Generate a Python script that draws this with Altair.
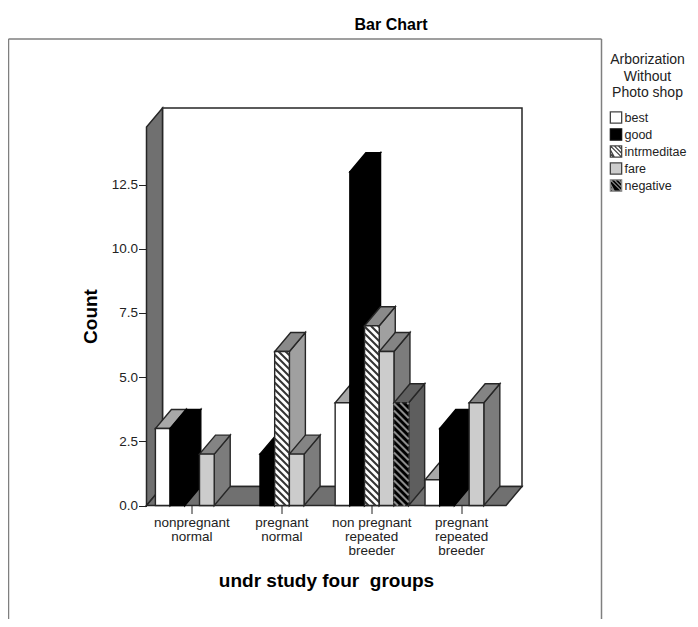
import altair as alt
import pandas as pd

FONT = "Liberation Sans"
groups = ["nonpregnant|normal", "pregnant|normal", "non pregnant|repeated|breeder", "pregnant|repeated|breeder"]
cats = ["best", "good", "intrmeditae", "fare", "negative"]
best = [3, 0, 4, 1]
good = [3, 2, 13, 3]
intr = [0, 6, 7, 0]
fare = [2, 2, 6, 4]
nega = [0, 0, 4, 0]
series = [best, good, intr, fare, nega]
front = ["#ffffff", "#000000", "#ffffff", "#cccccc", "#000000"]
top = ["#a8a8a8", "#000000", "#8a8a8a", "#848484", "#606060"]
side = ["#b5b5b5", "#000000", "#a0a0a0", "#7c7c7c", "#5e5e5e"]
stripe = [None, None, "#333333", None, "#8c8c8c"]
legend_stroke = ["#444444", "#111111", "#444444", "#444444", "#888888"]

BOX = "M-1,-1L1,-1L1,1L-1,1Z"
HATCH = BOX + "M-1,-1L1,1M-1,-0.3L-0.3,1M-0.3,-1L1,0.3M-1,0.4L-0.4,1M0.4,-1L1,-0.4"
paths = [BOX, BOX, HATCH, BOX, HATCH]

W, H = 375.5, 397.5
XMIN, XMAX, YMAX = -0.5, 3.678, 15.48
PX = W / (XMAX - XMIN)
PY = H / YMAX
DX, DY = 16 / PX, 19 / PY
BW = 14.7 / PX
EDGE = "#262626"

xs = alt.Scale(domain=[XMIN, XMAX], nice=False, zero=False)
ys = alt.Scale(domain=[0, YMAX], nice=False, zero=False)
X = lambda f="x": alt.X(f"{f}:Q", scale=xs, axis=None)
Y = lambda f="y": alt.Y(f"{f}:Q", scale=ys, axis=None)


def vface(x0, x1, b0, t0, b1, t1, color, sw=1.4, edge=EDGE):
    d = pd.DataFrame({"x": [x0, x1], "y": [b0, b1], "y2": [t0, t1]})
    return alt.Chart(d).mark_area(orient="vertical", fill=color, stroke=edge, strokeWidth=sw, opacity=1).encode(
        x=X(), y=Y(), y2="y2:Q")


def hface(x0, x1, y0, y1, color, sw=1.4, edge=EDGE):
    d = pd.DataFrame({"y": [y0, y1], "x": [x0, x0 + DX], "x2": [x1, x1 + DX]})
    return alt.Chart(d).mark_area(orient="horizontal", fill=color, stroke=edge, strokeWidth=sw, opacity=1).encode(
        x=X(), x2="x2:Q", y=Y())


def rect(x0, x1, y0, y1, color, sw=1.4, edge=EDGE):
    d = pd.DataFrame({"x": [x0], "x2": [x1], "y": [y0], "y2": [y1]})
    return alt.Chart(d).mark_rect(fill=color, stroke=edge, strokeWidth=sw, opacity=1).encode(
        x=X(), x2="x2:Q", y=Y(), y2="y2:Q")


def hatch(x0, v, color):
    w, h = BW * PX, v * PY
    rows = []
    c = 4.0
    while c < h + w:
        u0, u1 = max(0, c - h), min(w, c)
        rows.append({"x": x0 + u0 / PX, "x2": x0 + u1 / PX, "y": (c - u0) / PY, "y2": (c - u1) / PY})
        c += 7.0
    return alt.Chart(pd.DataFrame(rows)).mark_rule(stroke=color, strokeWidth=2.0, strokeCap="butt").encode(
        x=X(), x2="x2:Q", y=Y(), y2="y2:Q")


layers = []

# legend carrier, hidden behind the back wall
ld = pd.DataFrame({"cat": cats, "x": [1] * 5, "y": [5] * 5})
layers.append(alt.Chart(ld).mark_point(size=1, filled=True, opacity=1).encode(
    x=X(), y=Y(),
    fill=alt.Fill("cat:N", scale=alt.Scale(domain=cats, range=front), legend=alt.Legend(
        title=["Arborization", "Without", "Photo shop"], orient="none", legendX=463, legendY=-55,
        titleFont=FONT, titleFontSize=14, titleFontWeight="normal", titleColor="#222222",
        titleAlign="center", titleAnchor="middle", titleLineHeight=16.5, titlePadding=11,
        labelFont=FONT, labelFontSize=12.5, labelColor="#222222", labelOffset=2,
        symbolSize=128, symbolStrokeWidth=1.3, symbolType="square", symbolOpacity=1, rowPadding=0, labelLimit=120)),
    stroke=alt.Stroke("cat:N", scale=alt.Scale(domain=cats, range=legend_stroke)),
    shape=alt.Shape("cat:N", scale=alt.Scale(domain=cats, range=paths)),
))

# walls and floor
FX = 3.5  # right end of the floor's front edge
layers.append(rect(XMIN + DX, XMAX, DY, YMAX, "#ffffff", 1.5))
layers.append(vface(XMIN, XMIN + DX, 0, YMAX - DY, DY, YMAX, "#707070", 1.5))
layers.append(hface(XMIN, FX, 0, DY, "#707070", 1.5))

# bars, painted left to right
for g in range(4):
    for s in range(5):
        v = series[s][g]
        if v == 0:
            continue
        x0 = g + 0.008 + (s - 2.5) * BW
        x1 = x0 + BW
        edge = "#000000" if s == 1 else EDGE
        layers.append(vface(x1, x1 + DX, 0, v, DY, v + DY, side[s], edge=edge))
        layers.append(hface(x0, x1, v, v + DY, top[s], edge=edge))
        layers.append(rect(x0, x1, 0, v, front[s], edge=edge))
        if stripe[s]:
            layers.append(hatch(x0, v, stripe[s]))

# axes
label_expr = "split(" + str(groups) + "[datum.value], '|')"
axes_d = pd.DataFrame({"x": [0.0], "y": [0.0]})
layers.append(alt.Chart(axes_d).mark_point(opacity=0).encode(
    x=alt.X("x:Q", scale=xs, axis=alt.Axis(
        values=[0, 1, 2, 3], labelExpr=label_expr, domain=False, grid=False, tickSize=8, tickColor="#222222",
        labelFont=FONT, labelFontSize=13.5, labelColor="#222222", labelAngle=0, labelPadding=2, labelLineHeight=14,
        labelOverlap=False, labelFlush=False,
        title="undr study four \u00a0groups", titleFont=FONT, titleFontSize=19, titleFontWeight="bold", titleColor="#000000",
        titleX=179.5, titleY=66)),
    y=alt.Y("y:Q", scale=ys, axis=alt.Axis(
        values=[0, 2.5, 5, 7.5, 10, 12.5], format=".1f", domain=False, grid=False, tickSize=8, tickColor="#222222",
        labelFont=FONT, labelFontSize=13.5, labelColor="#222222", labelPadding=1,
        title="Count", titleFont=FONT, titleFontSize=19, titleFontWeight="bold", titleColor="#000000",
        titleX=-46, titleY=208)),
))

# outer frame
FR = "#7f7f7f"
layers.append(alt.Chart(axes_d).mark_rule(stroke=FR, strokeWidth=1.5).encode(
    x=alt.value(-138), x2=alt.value(455), y=alt.value(-69)))
layers.append(alt.Chart(axes_d).mark_rule(stroke=FR, strokeWidth=1.5).encode(
    x=alt.value(-138), y=alt.value(-69), y2=alt.value(513)))
layers.append(alt.Chart(axes_d).mark_rule(stroke=FR, strokeWidth=1.5).encode(
    x=alt.value(455), y=alt.value(-69), y2=alt.value(513)))

# chart title
layers.append(alt.Chart(pd.DataFrame({"t": ["Bar Chart"]})).mark_text(
    font=FONT, fontSize=16, fontWeight="bold", color="#000000", align="center", baseline="middle").encode(
    text="t:N", x=alt.value(244.5), y=alt.value(-83)))

chart = alt.layer(*layers).resolve_scale(fill="independent", stroke="independent", shape="independent").resolve_axis(
    x="independent", y="independent").properties(
    width=W, height=H,
    background="white",
    autosize=alt.AutoSizeParams(type="none"),
    padding={"left": 138.5, "top": 100, "right": 168, "bottom": 113},
).configure_view(stroke=None)

chart.save("out.html", embed_options={"renderer": "svg", "actions": False})
